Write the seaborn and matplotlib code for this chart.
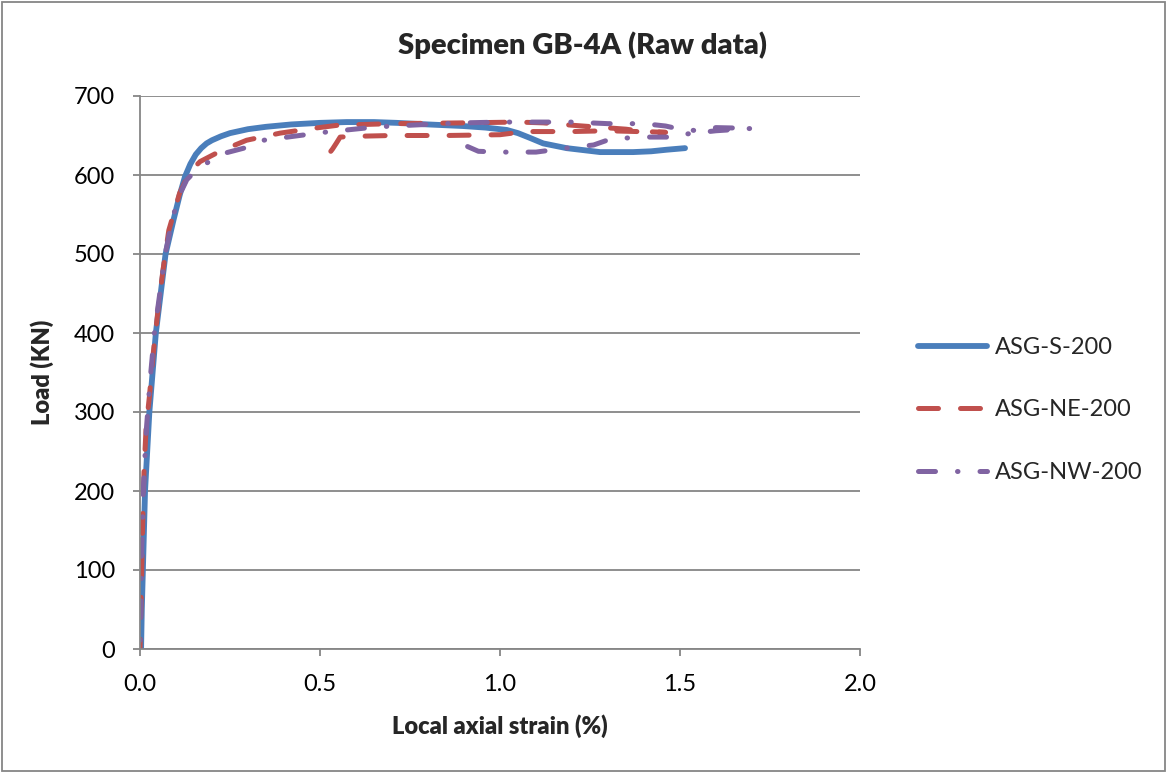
import numpy as np
import pandas as pd
import matplotlib
matplotlib.use("Agg")
import matplotlib.pyplot as plt
from matplotlib.patches import Rectangle
import seaborn as sns

# ---- data: local axial strain (%) and load (kN) for three strain gauges ----
s_strain = [0.003, 0.005, 0.008, 0.014, 0.026, 0.044, 0.071, 0.093, 0.11, 0.125, 0.14,
            0.155, 0.17, 0.185, 0.2, 0.225, 0.25, 0.3, 0.35, 0.42, 0.5, 0.574, 0.65,
            0.713, 0.8, 0.897, 0.96, 1.019, 1.05, 1.083, 1.12, 1.185, 1.278, 1.37,
            1.42, 1.463, 1.514]
s_load = [0, 50, 100, 200, 300, 400, 500, 543, 574, 598, 614,
          626, 634, 640, 644, 649, 653, 658, 661, 664, 666, 667, 667,
          666, 664, 662, 660, 657, 653, 647, 640, 634, 629, 629,
          630, 632, 634]

ne_strain = [0.0, 0.003, 0.006, 0.011, 0.017, 0.026, 0.037, 0.051, 0.064, 0.08, 0.11,
             0.14, 0.167, 0.222, 0.296, 0.389, 0.48, 0.55, 0.7, 0.9, 1.05, 1.12, 1.2,
             1.29, 1.35, 1.4, 1.46, 1.38, 1.3, 1.2, 1.07, 1.0, 0.85, 0.7, 0.6, 0.556,
             0.545, 0.535, 0.53]
ne_load = [0, 60, 130, 223, 281, 319, 375, 433, 480, 530, 577,
           605, 617, 630, 644, 653, 659, 663, 665, 666, 667, 666, 663,
           660, 658, 655, 654, 655, 656, 655, 655, 651, 650, 650, 649, 648,
           640, 633, 630]

nw_strain = [0.0, 0.002, 0.005, 0.01, 0.018, 0.028, 0.04, 0.055, 0.07, 0.09, 0.11,
             0.13, 0.16, 0.185, 0.23, 0.297, 0.343, 0.41, 0.51, 0.574, 0.66, 0.75,
             0.84, 0.9, 1.0, 1.1, 1.2, 1.3, 1.4, 1.46, 1.5, 1.55, 1.6, 1.7, 1.6, 1.52,
             1.5, 1.41, 1.31, 1.26, 1.2, 1.15, 1.1, 1.0, 0.94, 0.91]
nw_load = [0, 60, 130, 210, 280, 340, 400, 450, 500, 545, 575,
           594, 608, 615, 627, 635, 644, 648, 654, 657, 661, 663,
           665, 666, 667, 667, 667, 665, 665, 662, 658, 656, 660, 659, 656, 652,
           648, 648, 646, 638, 635, 632, 629, 629, 630, 636]

series_names = ["ASG-S-200", "ASG-NE-200", "ASG-NW-200"]
colors = ["#4A7EBB", "#C0504D", "#8064A2"]
x_ticks = [0.0, 0.5, 1.0, 1.5, 2.0]
y_ticks = [0, 100, 200, 300, 400, 500, 600, 700]

sns.set_theme(style="white")
plt.rcParams["font.family"] = ["Lato", "DejaVu Sans"]

fig = plt.figure(figsize=(11.67, 7.73), dpi=100)
ax = fig.add_axes([140 / 1167, 1 - 649 / 773, 720 / 1167, 553 / 773])

styles = [
    dict(linestyle="-", linewidth=4.2, solid_capstyle="round"),
    dict(linestyle=(0, (4.0, 4.4)), linewidth=3.6, dash_capstyle="round"),
    dict(linestyle=(0, (3.4, 4.4, 0.1, 4.4)), linewidth=3.6, dash_capstyle="round"),
]
data = [(s_strain, s_load), (ne_strain, ne_load), (nw_strain, nw_load)]
for i, ((xs, ys), name, col, st) in enumerate(zip(data, series_names, colors, styles)):
    df = pd.DataFrame({"strain": xs, "load": ys})
    if i > 0:
        # gauge traces are drawn from their last reading back to the origin
        df = df.iloc[::-1].reset_index(drop=True)
    sns.lineplot(data=df, x="strain", y="load", sort=False, estimator=None,
                 color=col, ax=ax, label=name, **st)

ax.set_xlim(0, 2.0)
ax.set_ylim(0, 700)
ax.set_xticks(x_ticks)
ax.set_xticklabels([f"{v:.1f}" for v in x_ticks])
ax.set_yticks(y_ticks)
ax.set_yticklabels([str(v) for v in y_ticks])

grid_col = "#868686"
ax.yaxis.grid(True, color=grid_col, linewidth=1.3)
ax.xaxis.grid(False)
ax.set_axisbelow(True)
for side in ["top", "right"]:
    ax.spines[side].set_visible(False)
for side in ["left", "bottom"]:
    ax.spines[side].set_color(grid_col)
    ax.spines[side].set_linewidth(1.3)
ax.tick_params(axis="both", which="major", direction="out", length=5, width=1.3,
               color=grid_col, labelsize=17, labelcolor="black", pad=13,
               bottom=True, left=True)

ax.set_xlabel("Local axial strain (%)", fontsize=17, fontweight="heavy", labelpad=14)
ax.set_ylabel("Load (KN)", fontsize=17, fontweight="heavy", labelpad=14)
fig.text(583 / 1167, 1 - 45 / 773, "Specimen GB-4A (Raw data)", ha="center",
         va="center", fontsize=21, fontweight="heavy")

h, l = ax.get_legend_handles_labels()
ax.legend_.remove()
fig.legend(h, l, loc="center left", bbox_to_anchor=(897 / 1167, 1 - 410 / 773),
           frameon=False, fontsize=17, handlelength=2.9, handletextpad=0.35,
           labelspacing=1.75)

fig.patches.append(Rectangle((2 / 1167, 2 / 773), 1163 / 1167, 769 / 773,
                             transform=fig.transFigure, fill=False,
                             edgecolor=grid_col, linewidth=1.3))

fig.savefig("out.png", dpi=100, facecolor="white")
